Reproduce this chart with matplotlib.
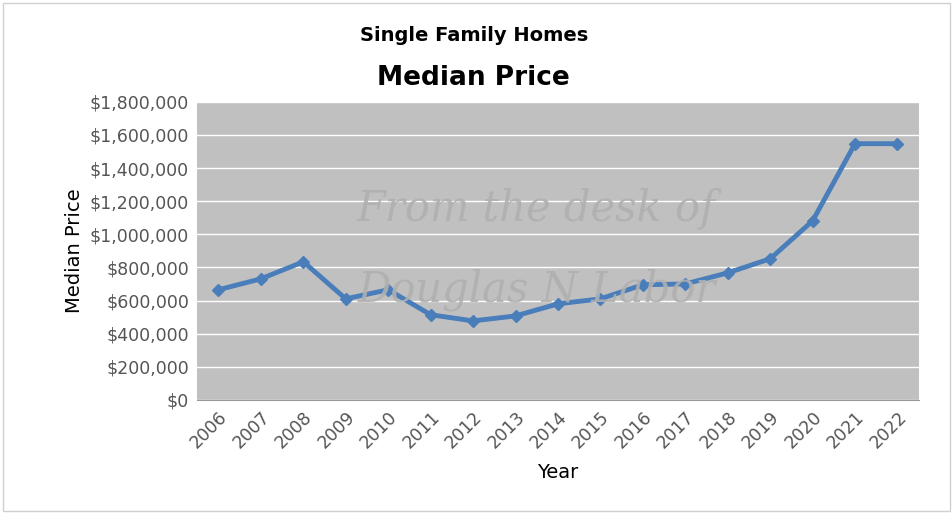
import matplotlib.pyplot as plt
from matplotlib.ticker import FuncFormatter

years = [str(y) for y in range(2006, 2023)]
prices = [665000, 731000, 834000, 610000, 665000, 514000, 477000, 507000, 580000,
          610000, 695000, 700000, 767000, 852000, 1081000, 1547000, 1547000]

fig = plt.figure(figsize=(9.53, 5.14), dpi=100)
ax = fig.add_axes([0.207, 0.222, 0.757, 0.58])
ax.set_facecolor("#c0c0c0")
x = range(len(years))
ax.plot(x, prices, color="#4a7ebb", lw=3.5, marker="D", ms=6)
ax.set_xlim(-0.5, len(years) - 0.5)
ax.set_ylim(0, 1800000)
ax.set_yticks(range(0, 1800001, 200000))
ax.yaxis.set_major_formatter(FuncFormatter(lambda v, p: f"${v:,.0f}"))
ax.set_xticks(list(x))
ax.set_xticklabels(years, rotation=45, ha="right", rotation_mode="anchor")
ax.grid(axis="y", color="white", lw=1)
ax.set_axisbelow(True)
for s in ["top", "right", "left"]:
    ax.spines[s].set_visible(False)
ax.spines["bottom"].set_color("#999999")
ax.tick_params(length=0, labelsize=12.5, colors="#555555", pad=6)
ax.set_xlabel("Year", fontsize=14, labelpad=8)
ax.set_ylabel("Median Price", fontsize=14)

fig.text(0.497, 0.92, "Single Family Homes", ha="center", fontsize=14, weight="bold")
fig.text(0.497, 0.835, "Median Price", ha="center", fontsize=19, weight="bold")

# watermark
ax.text(0.47, 0.6, "From the desk of", transform=ax.transAxes, fontsize=30,
        family="serif", style="italic", color="#b0b0b0", ha="center", alpha=0.9)
ax.text(0.47, 0.33, "Douglas N Labor", transform=ax.transAxes, fontsize=30,
        family="serif", style="italic", color="#b0b0b0", ha="center", alpha=0.9)

fig.add_artist(plt.Rectangle((0.003, 0.005), 0.994, 0.99, transform=fig.transFigure,
                             fill=False, ec="#d0d0d0", lw=1))
fig.savefig("out.png", dpi=100)
